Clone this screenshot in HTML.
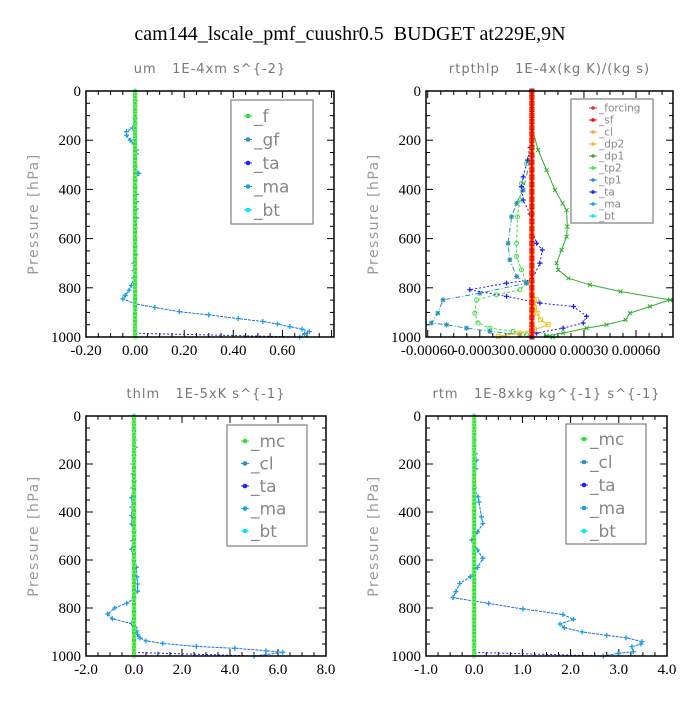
<!DOCTYPE html>
<html><head><meta charset="utf-8">
<style>
body{margin:0;background:#fff;}
svg text{font-family:"Liberation Serif",serif;white-space:pre;}
.sub{font-family:"DejaVu Sans","Liberation Sans",sans-serif;fill:#777;font-size:13px;letter-spacing:1px;}
.lab{font-family:"DejaVu Sans","Liberation Sans",sans-serif;fill:#999;font-size:14px;letter-spacing:1.5px;}
.leg{font-family:"DejaVu Sans","Liberation Sans",sans-serif;fill:#888;}
.tk{font-size:15px;fill:#000;}
</style></head>
<body>
<svg id="chart" width="700" height="700" viewBox="0 0 700 700" xmlns="http://www.w3.org/2000/svg">
<text x="350" y="40" text-anchor="middle" font-size="20">cam144_lscale_pmf_cuushr0.5  BUDGET at229E,9N</text>
</svg>
<script>
// ---- data ----
const yTicks=[0,200,400,600,800,1000];
// panel 1 um
const umTicks=[-0.2,0,0.2,0.4,0.6];
const umTickLabels=["-0.20","0.00","0.20","0.40","0.60"];
const umP=[0,40,80,110,130,150,165,180,200,215,240,255,290,310,335,360,390,420,450,480,515,555,595,630,665,700,730,760,790,810,830,845,865,880,897,910,925,937,947,958,968,978,987,1000];
const umV=[0,0,0,0,0,-0.01,-0.035,-0.035,-0.02,-0.005,0.005,0.005,0,0,0.015,0,0,0.005,0.005,0.005,0.005,0,0,0,0.003,-0.005,-0.003,-0.005,-0.015,-0.025,-0.04,-0.05,0,0.08,0.18,0.3,0.42,0.52,0.58,0.63,0.68,0.71,0.69,0.67];
// panel 2 rtpthlp
const rtTicks=[-0.0006,-0.0003,0,0.0003,0.0006];
const rtTickLabels=["-0.00060","-0.00030","0.00000","0.00030","0.00060"];
const dp1P=[0,146,240,322,403,457,484,551,592,646,700,727,761,788,815,849,876,903,930,950,964,984,995,1000];
const dp1V=[0,0,3.6e-5,8.5e-5,1.33e-4,1.77e-4,2.0e-4,2.04e-4,2.0e-4,1.71e-4,1.42e-4,1.52e-4,2.1e-4,3.35e-4,5.1e-4,7.96e-4,6.8e-4,5.65e-4,5.4e-4,4.3e-4,3.15e-4,1.8e-4,8.5e-5,1.2e-4];
const tp2P=[0,186,295,376,443,511,619,673,727,781,808,828,849,903,943,964,977,991,1000];
const tp2V=[0,0,-3.1e-5,-6e-5,-6.9e-5,-8.3e-5,-8.8e-5,-8.8e-5,-6e-5,-3.1e-5,-6.9e-5,-2.04e-4,-3.19e-4,-3.29e-4,-3.1e-4,-2.42e-4,-1.08e-4,-3e-5,0];
const tp1P=[0,200,281,403,457,511,619,686,754,781,822,849,903,943,950,964,977,991,1000];
const tp1V=[0,0,-1e-5,-5e-5,-8.8e-5,-1.17e-4,-1.37e-4,-1.27e-4,-8.8e-5,-3.1e-5,-3e-4,-5.12e-4,-5.42e-4,-5.79e-4,-4.92e-4,-3.77e-4,-2.42e-4,-6.9e-5,0];
const taP=[0,150,230,281,349,389,443,500,560,619,646,700,768,781,808,835,862,876,916,943,964,984,1000];
const taV=[0,0,-1e-5,-2.5e-5,-5e-5,-6e-5,-5e-5,-1e-5,0,2.7e-5,6e-5,4.6e-5,0,-1.46e-4,-3.58e-4,-1.46e-4,4.6e-5,2.4e-4,3.15e-4,2.96e-4,1.8e-4,2.7e-5,0];
const dp2P=[0,820,849,880,903,930,950,970,984,997];
const dp2V=[0,0,2.7e-5,1.5e-5,3e-5,5e-5,9.4e-5,1.5e-5,-6.9e-5,-1.94e-4];
// panel 3 thlm
const thTicks=[-2,0,2,4,6,8];
const thTickLabels=["-2.0","0.0","2.0","4.0","6.0","8.0"];
const thP=[0,60,100,130,165,200,240,270,300,340,380,415,450,480,520,555,600,630,670,700,730,760,780,800,825,845,865,880,895,910,925,937,948,960,968,978,985,1000];
const thV=[0,0,0.02,0.05,0,-0.05,-0.03,0,-0.05,-0.1,-0.08,-0.1,-0.1,0,-0.05,-0.1,0,0.1,0.12,0.15,0.15,0,-0.3,-0.8,-1.1,-0.9,-0.1,0.05,0.1,0.15,0.25,0.5,1.2,2.6,4.2,5.5,6.2,5.0];
// panel 4 rtm
const rmTicks=[-1,0,1,2,3,4];
const rmTickLabels=["-1.0","0.0","1.0","2.0","3.0","4.0"];
const rmP=[0,100,157,184,220,300,337,358,420,448,483,517,559,593,631,670,698,732,757,781,804,827,847,867,882,900,914,924,940,950,961,982,989,1000];
const rmV=[0,0,0.02,0.05,0.03,0,0.08,0.1,0.15,0.18,0.07,-0.05,0.07,0.18,0.07,-0.08,-0.3,-0.38,-0.44,0.3,1.01,1.84,2.06,1.78,1.87,2.24,2.75,3.15,3.48,3.46,3.27,3.3,2.99,2.68];
const zeroP=[0,25,50,75,100,125,150,175,200,230,260,290,320,350,380,410,440,470,500,530,560,590,620,650,680,710,740,770,800,830,860,890,920,950,975,1000];

// ---- drawing ----
const svg=document.getElementById('chart');
const NS='http://www.w3.org/2000/svg';
function mk(tag,attrs,parent){const e=document.createElementNS(NS,tag);for(const k in attrs)e.setAttribute(k,attrs[k]);(parent||svg).appendChild(e);return e;}

function panel(cfg){
  const g=mk('g',{});
  
  
  const L=cfg.x0,R=cfg.x1,T=cfg.y0,B=cfg.y1;
  const sx=v=>L+(v-cfg.xmin)/(cfg.xmax-cfg.xmin)*(R-L);
  const sy=p=>T+p/1000*(B-T);
  const t=mk('text',{x:(L+R)/2,y:T-18,'text-anchor':'middle',class:'sub'},g);t.textContent=cfg.title;
  
  
  const yl=mk('text',{x:0,y:0,'text-anchor':'middle',class:'lab',transform:`translate(${L-48},${(T+B)/2}) rotate(-90)`},g);yl.textContent='Pressure [hPa]';
  
  
  for(let p=0;p<=1000;p+=50){const len=p%200===0?7:4;
    mk('line',{x1:L,x2:L+len,y1:sy(p),y2:sy(p),stroke:'#000'},g);
    mk('line',{x1:R,x2:R-len,y1:sy(p),y2:sy(p),stroke:'#000'},g);}
  yTicks.forEach(p=>{const tt=mk('text',{x:L-5,y:sy(p)+5,'text-anchor':'end',class:'tk'},g);tt.textContent=p;
    
    });
  const step=cfg.ticks[1]-cfg.ticks[0];
  for(let v=cfg.ticks[0]-step;v<=cfg.xmax+1e-12;v+=step/4){if(v<cfg.xmin-1e-12)continue;
    const maj=Math.abs(Math.round((v-cfg.ticks[0])/step)*step+cfg.ticks[0]-v)<step*0.01;
    const len=maj?7:4;
    mk('line',{x1:sx(v),x2:sx(v),y1:B,y2:B-len,stroke:'#000'},g);
    mk('line',{x1:sx(v),x2:sx(v),y1:T,y2:T+len,stroke:'#000'},g);}
  cfg.ticks.forEach((v,i)=>{const tt=mk('text',{x:sx(v),y:B+18,'text-anchor':'middle',class:'tk'},g);tt.textContent=cfg.labels[i];
    
    });
  cfg.series.forEach(s=>{
    const pts=s.p.map((p,i)=>sx(s.v[i]).toFixed(1)+','+sy(p).toFixed(1)).join(' ');
    const pl=mk('polyline',{points:pts,fill:'none',stroke:s.color,'stroke-width':s.w||1,'stroke-dasharray':s.dash||''},g);
    
    
    s.p.forEach((p,i)=>{const x=sx(s.v[i]),y=sy(p);
      if(s.mark==='o')mk('circle',{cx:x,cy:y,r:2,fill:'none',stroke:s.mcolor||s.color},g);
      else if(s.mark==='+'){mk('path',{d:`M${x-2.5},${y}h5M${x},${y-2.5}v5`,stroke:s.mcolor||s.color,'stroke-width':1.3},g);}
      else if(s.mark==='*'){mk('path',{d:`M${x-2.5},${y}h5M${x},${y-2.5}v5M${x-2},${y-2}l4,4M${x-2},${y+2}l4,-4`,stroke:s.mcolor||s.color},g);}
      else if(s.mark==='x'){mk('path',{d:`M${x-2},${y-2}l4,4M${x-2},${y+2}l4,-4`,stroke:s.color},g);}
      else if(s.mark==='s'){mk('rect',{x:x-2,y:y-2,width:4,height:4,fill:'none',stroke:s.color},g);}
      else if(s.mark==='d'){mk('circle',{cx:x,cy:y,r:2.2,fill:s.color},g);}
    });
  });
  mk('rect',{x:L,y:T,width:R-L,height:B-T,fill:'none',stroke:'#000','stroke-width':1.5},g);
  const lg=cfg.legend;
  const lb=mk('g',{},g);
  
  
  mk('rect',{x:lg.x,y:lg.y,width:lg.w,height:lg.h,fill:'#fff',stroke:'#888','stroke-width':1.3},lb);
  lg.items.forEach((it,i)=>{const y=lg.ey+i*lg.dy;
    const e=mk('g',{},lb);
    
    
    mk('line',{x1:lg.mx-4,x2:lg.mx+4,y1:y,y2:y,stroke:it[1]},e);
    mk('circle',{cx:lg.mx,cy:y,r:lg.fs>12?2.3:1.8,fill:it[1]},e);
    const tx=mk('text',{x:lg.mx+6,y:y+lg.fs*0.35,class:'leg','font-size':lg.fs},e);tx.textContent=it[0];});
}

panel({name:'um-panel',title:'um   1E-4xm s^{-2}',x0:86,x1:334,y0:91,y1:337,xmin:-0.2,xmax:0.81,ticks:umTicks,labels:umTickLabels,
 series:[{label:'ta',p:[985,1000],v:[0,0.67],color:'#2020ff',dash:'2,2'},
   {label:'bt',p:umP,v:umV,color:'#1a6fe8',mark:'+',mcolor:'#1a9fe8',dash:'3,1'},
   {label:'f',p:zeroP,v:zeroP.map(()=>0),color:'#33dd33',w:4,mark:'o',mcolor:'#88ee88'}],
 legend:{x:231,y:100,w:82,h:124,mx:248,ey:116,dy:23.5,fs:17,items:[['_f','#33dd33'],['_gf','#3090c0'],['_ta','#2020ff'],['_ma','#1a9fe8'],['_bt','#00e5ff']]}});

panel({name:'rtpthlp-panel',title:'rtpthlp   1E-4x(kg K)/(kg s)',x0:426,x1:673,y0:91,y1:337,xmin:-0.00061,xmax:0.000813,ticks:rtTicks,labels:rtTickLabels,
 series:[{label:'dp1',p:dp1P,v:dp1V,color:'#30b030',mark:'x'},
   {label:'tp2',p:tp2P,v:tp2V,color:'#40e040',mark:'o',dash:'3,2'},
   {label:'tp1',p:tp1P,v:tp1V,color:'#2a90b8',mark:'*',dash:'5,2,1,2'},
   {label:'ta',p:taP,v:taV,color:'#2020ff',mark:'+',dash:'2,2'},
   {label:'dp2',p:dp2P,v:dp2V,color:'#f0c020',mark:'s'},
   {label:'forcing',p:zeroP,v:zeroP.map(()=>0),color:'#ff9900',w:5},
   {label:'sf',p:zeroP,v:zeroP.map(()=>0),color:'#ee0000',w:2,mark:'s'}],
 legend:{x:571,y:99,w:82,h:124,mx:593,ey:108,dy:12,fs:10.5,items:[['_forcing','#e03030'],['_sf','#ff0000'],['_cl','#ffa040'],['_dp2','#f0c020'],['_dp1','#30b030'],['_tp2','#40e040'],['_tp1','#2a90b8'],['_ta','#2020ff'],['_ma','#1a9fe8'],['_bt','#00e5ff']]}});

panel({name:'thlm-panel',title:'thlm   1E-5xK s^{-1}',x0:86,x1:326,y0:416,y1:656,xmin:-2,xmax:8,ticks:thTicks,labels:thTickLabels,
 series:[{label:'ta',p:[985,1000],v:[0,5.0],color:'#2020ff',dash:'2,2'},
   {label:'bt',p:thP,v:thV,color:'#1a6fe8',mark:'+',mcolor:'#1a9fe8',dash:'3,1'},
   {label:'mc',p:zeroP,v:zeroP.map(()=>0),color:'#33dd33',w:4,mark:'o',mcolor:'#88ee88'}],
 legend:{x:227,y:425,w:80,h:121,mx:245,ey:441,dy:22.5,fs:17,items:[['_mc','#33dd33'],['_cl','#3090c0'],['_ta','#2020ff'],['_ma','#1a9fe8'],['_bt','#00e5ff']]}});

panel({name:'rtm-panel',title:'rtm   1E-8xkg kg^{-1} s^{-1}',x0:426,x1:667,y0:416,y1:656,xmin:-1,xmax:4,ticks:rmTicks,labels:rmTickLabels,
 series:[{label:'ta',p:[985,1000],v:[0,2.68],color:'#2020ff',dash:'2,2'},
   {label:'bt',p:rmP,v:rmV,color:'#1a6fe8',mark:'+',mcolor:'#1a9fe8',dash:'3,1'},
   {label:'mc',p:zeroP,v:zeroP.map(()=>0),color:'#33dd33',w:4,mark:'o',mcolor:'#88ee88'}],
 legend:{x:566,y:424,w:80,h:120,mx:584,ey:439,dy:23,fs:17,items:[['_mc','#33dd33'],['_cl','#3090c0'],['_ta','#2020ff'],['_ma','#1a9fe8'],['_bt','#00e5ff']]}});
</script>
</body></html>
